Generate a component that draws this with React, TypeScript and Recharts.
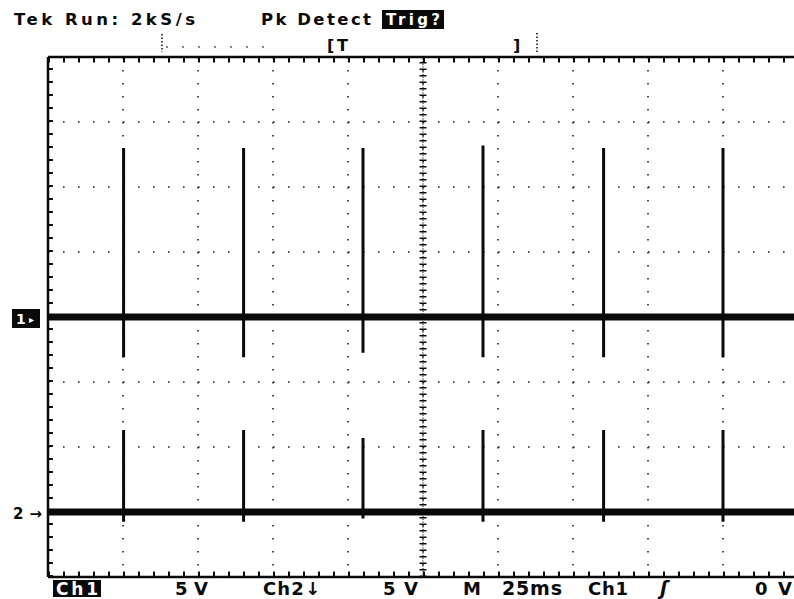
import React from 'react';
import { LineChart, Line, XAxis, YAxis, CartesianGrid, ReferenceLine } from 'recharts';

// graticule: 10 time divisions of 25 ms, 8 vertical divisions
const divX = [0, 25, 50, 75, 100, 125, 150, 175, 200, 225, 250];
const divY = [-4, -3, -2, -1, 0, 1, 2, 3, 4];

// pulse instants (ms)
const pulseTimes = [25.2, 65.2, 105, 145, 185.2, 225];

// channel 1 (divisions)
const ch1Base = 0;
const ch1High = [2.6, 2.6, 2.6, 2.64, 2.6, 2.6];
const ch1Low = [-0.62, -0.62, -0.55, -0.62, -0.62, -0.62];

// channel 2 (divisions)
const ch2Base = -3;
const ch2High = [-1.74, -1.74, -1.86, -1.74, -1.74, -1.74];
const ch2Low = [-3.15, -3.15, -3.1, -3.15, -3.15, -3.15];

const hLine = (v: number) => [
  { t: 0, v },
  { t: 250, v },
];
const vLine = (t: number) => [
  { t, v: -4 },
  { t, v: 4 },
];

const pulses = (hi: number[], lo: number[]) =>
  pulseTimes.flatMap((t, i) => [
    { t, v: hi[i] },
    { t, v: lo[i] },
    { t, v: null },
  ]);

const ink = '#0a0a0a';
const font = '"DejaVu Sans", sans-serif';

const Overlay = () => (
  <svg width={794} height={599} style={{ position: 'absolute', left: 0, top: 0, pointerEvents: 'none' }}>
    <g fontFamily={font} fontWeight="bold" fill={ink}>
      <text x={14} y={25} fontSize={16.5} textLength={181} lengthAdjust="spacing">Tek Run: 2kS/s</text>
      <text x={261} y={25} fontSize={16.5} textLength={110} lengthAdjust="spacing">Pk Detect</text>
      <rect x={382} y={10} width={62} height={19} fill={ink} />
      <text x={386} y={25} fontSize={15} fill="#fff" textLength={54} lengthAdjust="spacing">Trig?</text>

      <text x={327} y={51} fontSize={16}>[</text>
      <text x={337} y={51} fontSize={16}>T</text>
      <text x={513} y={51} fontSize={16}>]</text>
      <line x1={162} y1={34} x2={162} y2={52} stroke={ink} strokeWidth={1.5} strokeDasharray="1.5 2" />
      <line x1={166} y1={47} x2={276} y2={47} stroke={ink} strokeWidth={1.2} strokeDasharray="2 14" />
      <line x1={537} y1={33} x2={537} y2={52} stroke={ink} strokeWidth={1.5} strokeDasharray="1.5 2" />

      <rect x={12} y={309} width={28} height={19} fill={ink} />
      <text x={16} y={324} fontSize={14} fill="#fff">1</text>
      <text x={29} y={323} fontSize={10} fill="#fff">▸</text>
      <text x={13} y={519} fontSize={15} textLength={29} lengthAdjust="spacing">2→</text>

      <rect x={53} y={580} width={48} height={17} fill={ink} />
      <text x={56} y={595} fontSize={17} fill="#fff" textLength={42} lengthAdjust="spacing">Ch1</text>
      <text x={175} y={595} fontSize={18} textLength={33} lengthAdjust="spacing">5 V</text>
      <text x={263} y={595} fontSize={18} textLength={57} lengthAdjust="spacing">Ch2↓</text>
      <text x={383} y={595} fontSize={18} textLength={35} lengthAdjust="spacing">5 V</text>
      <text x={463} y={595} fontSize={18}>M</text>
      <text x={502} y={595} fontSize={19} textLength={60} lengthAdjust="spacing">25ms</text>
      <text x={588} y={595} fontSize={18} textLength={40} lengthAdjust="spacing">Ch1</text>
      <text x={660} y={595} fontSize={19} fontStyle="italic">ʃ</text>
      <text x={755} y={595} fontSize={18} textLength={37} lengthAdjust="spacing">0 V</text>
    </g>
  </svg>
);

const deco = { dot: false, isAnimationActive: false, stroke: ink, dataKey: 'v', activeDot: false } as const;

export default function App() {
  return (
    <div
      style={{
        position: 'absolute',
        left: 0,
        top: 0,
        width: 794,
        height: 599,
        overflow: 'hidden',
        background: '#fff',
      }}
    >
      <LineChart width={810} height={599} margin={{ top: 57, left: 48, right: 12, bottom: 22 }}>
        <XAxis type="number" dataKey="t" domain={[0, 250]} ticks={divX} allowDataOverflow hide />
        <YAxis type="number" domain={[-4, 4]} ticks={divY} allowDataOverflow hide />

        <CartesianGrid horizontal={false} stroke="#222" strokeWidth={1.6} strokeDasharray="1.6 11.4" />
        <CartesianGrid vertical={false} stroke="#222" strokeWidth={1.6} strokeDasharray="1.6 13.4" />

        {/* graticule frame */}
        <ReferenceLine y={4} stroke={ink} strokeWidth={2.5} />
        <ReferenceLine y={-4} stroke={ink} strokeWidth={2.5} />
        <ReferenceLine x={0} stroke={ink} strokeWidth={2.5} />

        {/* minor ticks along the frame, one per fifth of a division */}
        <Line {...deco} data={hLine(3.96)} strokeWidth={6} strokeDasharray="2 13" />
        <Line {...deco} data={hLine(-3.96)} strokeWidth={6} strokeDasharray="2 13" />
        <Line {...deco} data={vLine(0.8)} strokeWidth={5} strokeDasharray="2 11" />

        {/* centre vertical line with its tick marks */}
        <Line {...deco} data={vLine(125)} strokeWidth={1.2} strokeDasharray="1 1.6" />
        <Line {...deco} data={vLine(125)} strokeWidth={7} strokeDasharray="1.5 5" />

        <Line {...deco} data={hLine(ch1Base)} strokeWidth={7} />
        <Line {...deco} data={hLine(ch2Base)} strokeWidth={7} />
        <Line {...deco} data={pulses(ch1High, ch1Low)} strokeWidth={3} />
        <Line {...deco} data={pulses(ch2High, ch2Low)} strokeWidth={3} />
      </LineChart>
      <Overlay />
    </div>
  );
}
